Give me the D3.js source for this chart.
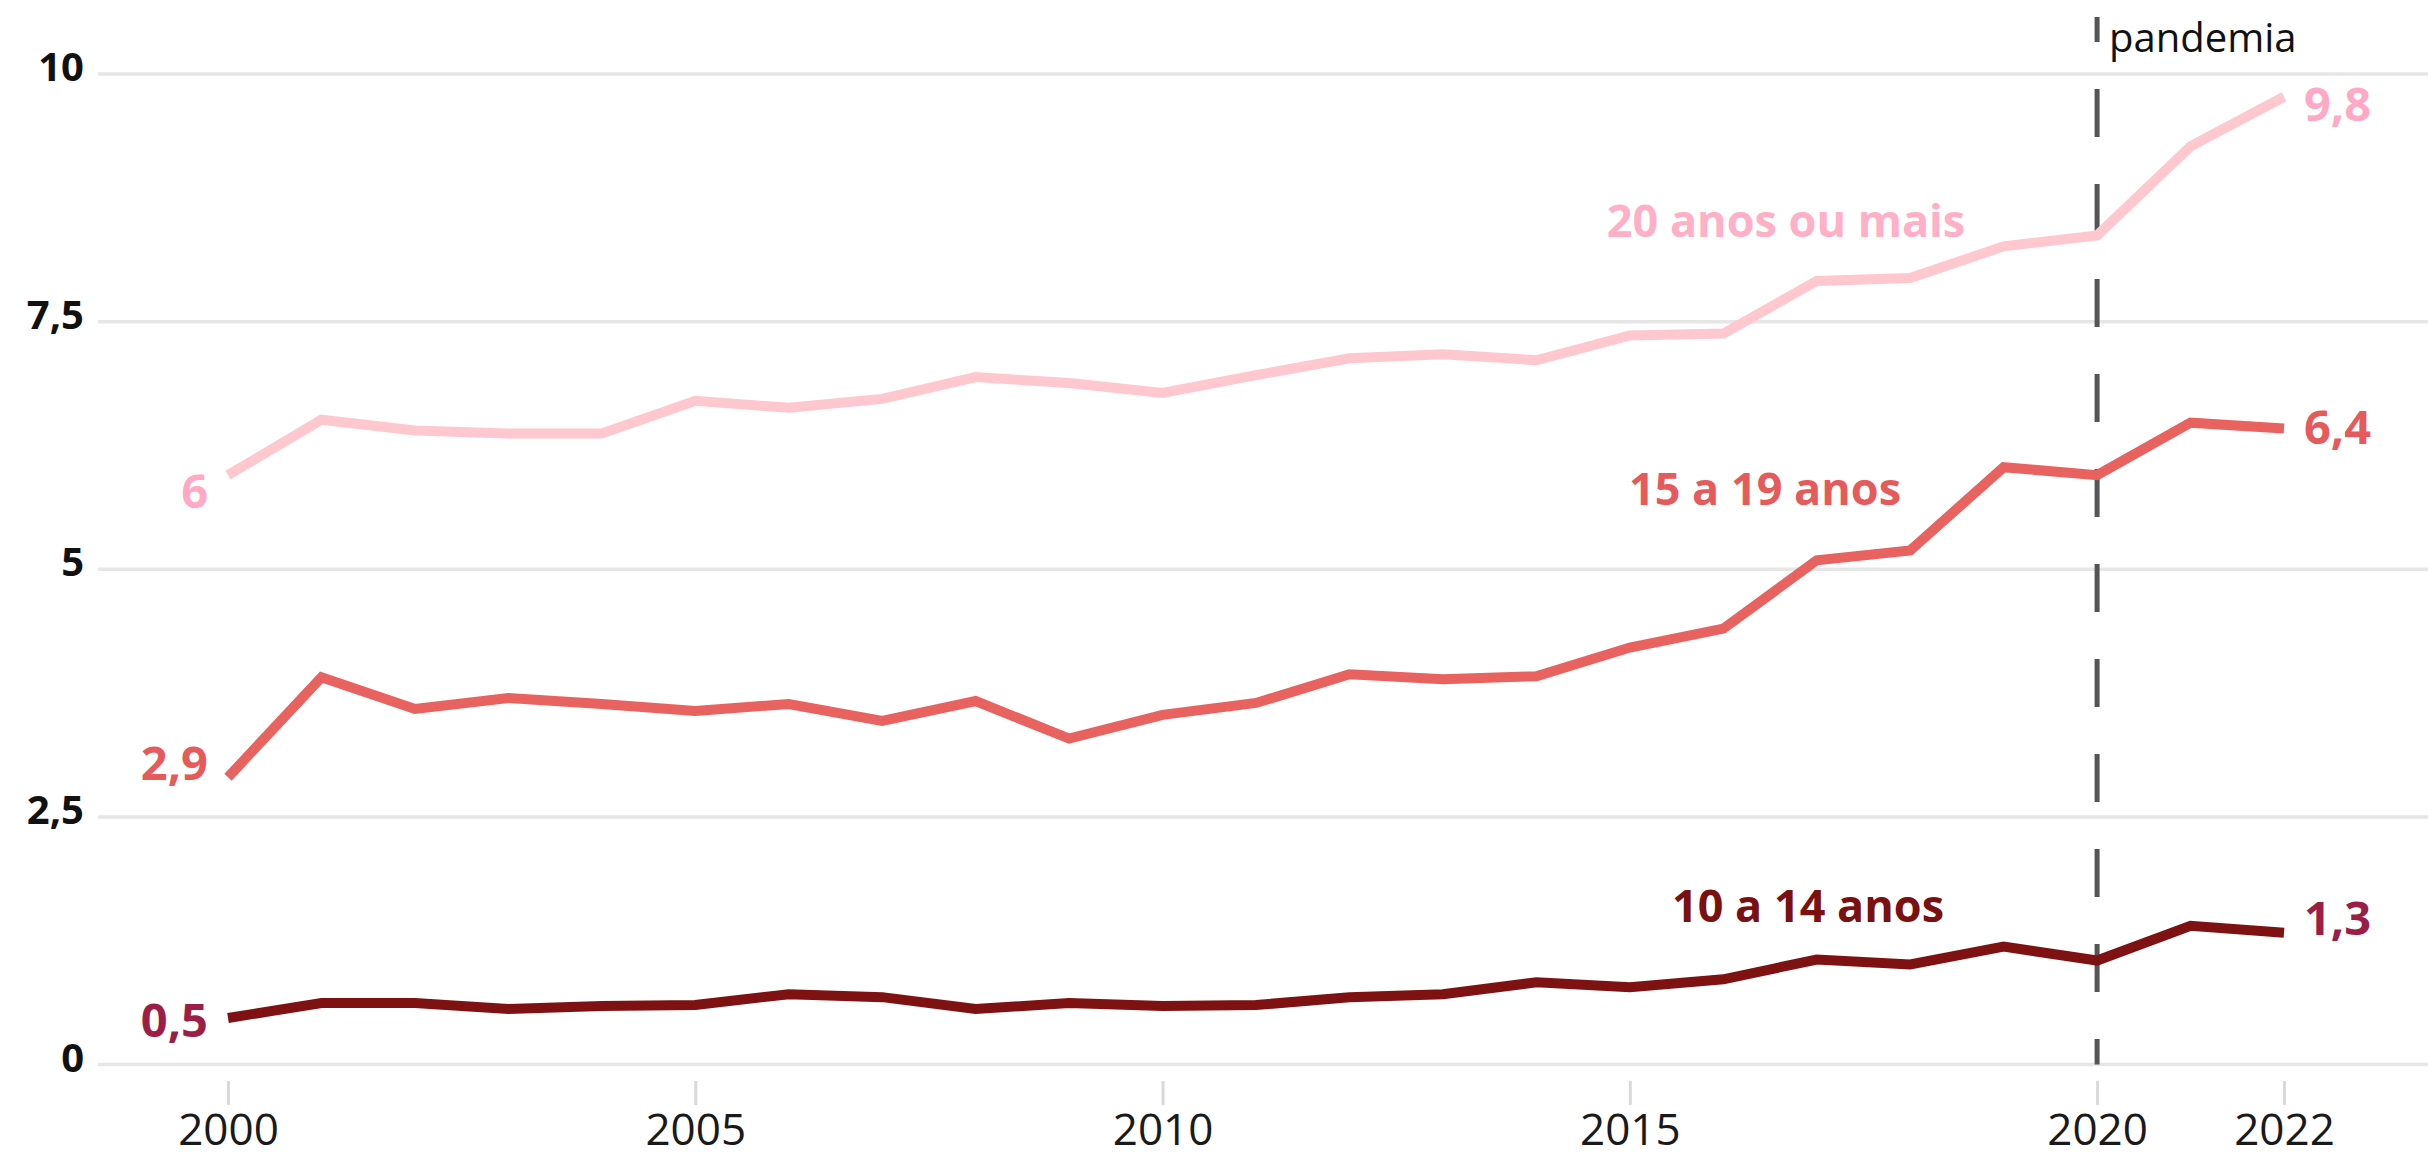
<!DOCTYPE html>
<html>
<head>
<meta charset="utf-8">
<script src="https://cdn.jsdelivr.net/npm/d3@7"></script>
<style>
  html, body { margin: 0; padding: 0; background: #ffffff; }
  svg { display: block; }
</style>
</head>
<body>
<svg id="chart" width="2428" height="1160"></svg>
<script>
// ---- Data ----
const years = [2000,2001,2002,2003,2004,2005,2006,2007,2008,2009,2010,2011,2012,2013,2014,2015,2016,2017,2018,2019,2020,2021,2022];
const age20plus = [5.95,6.51,6.40,6.37,6.37,6.70,6.63,6.72,6.94,6.88,6.78,6.96,7.13,7.17,7.11,7.36,7.38,7.91,7.94,8.26,8.37,9.27,9.77];
const age15to19 = [2.90,3.91,3.59,3.70,3.64,3.57,3.64,3.47,3.67,3.29,3.53,3.65,3.94,3.89,3.92,4.21,4.40,5.09,5.19,6.03,5.95,6.48,6.42];
const age10to14 = [0.47,0.62,0.62,0.56,0.59,0.60,0.71,0.68,0.56,0.62,0.59,0.60,0.68,0.71,0.83,0.78,0.86,1.06,1.01,1.19,1.05,1.40,1.33];
const seriesNames = ["20 anos ou mais","15 a 19 anos","10 a 14 anos"];
const startLabels = ["6","2,9","0,5"];
const endLabels = ["9,8","6,4","1,3"];
const yTicks = [0,2.5,5,7.5,10];
const yTickLabels = ["0","2,5","5","7,5","10"];
const xTicks = [2000,2005,2010,2015,2020,2022];
const pandemicYear = 2020;
const pandemicLabel = "pandemia";

// ---- Layout ----
const svg = d3.select("#chart");
const x = d3.scaleLinear().domain([2000, 2022]).range([228, 2284]);
const y = d3.scaleLinear().domain([0, 10]).range([1064.5, 74]);
const gridX0 = 98, gridX1 = 2428;
const font = "'Open Sans', 'Noto Sans', sans-serif";

const styles = [
  { line: "#ffc8cf", label: "#ffafc6", end: "#ffa9c6",
    nameX: 1786, nameY: 237,
    sdx: -20, sdy: 33, edx: 20, edy: 24 },
  { line: "#e8625f", label: "#e55b5b", end: "#e55b5b",
    nameX: 1765, nameY: 505,
    sdx: -20, sdy: 3, edx: 20, edy: 15 },
  { line: "#7e1212", label: "#7a1010", end: "#9a1e46",
    nameX: 1808, nameY: 922,
    sdx: -20, sdy: 19, edx: 20, edy: 2 }
];
const allSeries = [age20plus, age15to19, age10to14];

// ---- Gridlines + y labels ----
const gGrid = svg.append("g");
gGrid.selectAll("line").data(yTicks).join("line")
  .attr("x1", gridX0).attr("x2", gridX1)
  .attr("y1", d => y(d)).attr("y2", d => y(d))
  .attr("stroke", "#e6e6e6").attr("stroke-width", 3.5);
gGrid.selectAll("text").data(yTicks).join("text")
  .attr("x", 84).attr("y", d => y(d) + 7)
  .attr("text-anchor", "end")
  .attr("font-family", font).attr("font-size", 40).attr("font-weight", 700)
  .attr("fill", "#111")
  .text((d, i) => yTickLabels[i]);

// ---- X axis ----
const xAxis = d3.axisBottom(x)
  .tickValues(xTicks)
  .tickFormat(d3.format("d"))
  .tickSize(24)
  .tickPadding(9);
const gX = svg.append("g").attr("transform", "translate(0,1081)").call(xAxis);
gX.select(".domain").remove();
gX.selectAll(".tick line").attr("stroke", "#d9d9d9").attr("stroke-width", 3);
gX.selectAll(".tick text")
  .attr("font-family", font).attr("font-size", 44).attr("fill", "#1a1a1a");

// ---- Pandemic marker ----
svg.append("line")
  .attr("x1", x(pandemicYear)).attr("x2", x(pandemicYear))
  .attr("y1", 17).attr("y2", y(0))
  .attr("stroke", "#555").attr("stroke-width", 5)
  .attr("stroke-dasharray", "48,47").attr("stroke-dashoffset", 23);
svg.append("text")
  .attr("x", x(pandemicYear) + 12).attr("y", 52)
  .attr("font-family", font).attr("font-size", 40).attr("font-weight", 500)
  .attr("fill", "#111")
  .text(pandemicLabel);

// ---- Lines ----
const line = d3.line().x((d, i) => x(years[i])).y(d => y(d));
allSeries.forEach((vals, si) => {
  const st = styles[si];
  svg.append("path")
    .datum(vals)
    .attr("d", line)
    .attr("fill", "none")
    .attr("stroke", st.line)
    .attr("stroke-width", 10)
    .attr("stroke-linejoin", "miter")
    .attr("stroke-linecap", "butt");

  // start label
  svg.append("text")
    .attr("x", x(years[0]) + st.sdx).attr("y", y(vals[0]) + st.sdy)
    .attr("text-anchor", "end")
    .attr("font-family", font).attr("font-size", 47).attr("font-weight", 700)
    .attr("fill", st.end)
    .text(startLabels[si]);
  // end label
  const last = vals.length - 1;
  svg.append("text")
    .attr("x", x(years[last]) + st.edx).attr("y", y(vals[last]) + st.edy)
    .attr("text-anchor", "start")
    .attr("font-family", font).attr("font-size", 47).attr("font-weight", 700)
    .attr("fill", st.end)
    .text(endLabels[si]);
  // series name
  svg.append("text")
    .attr("x", st.nameX).attr("y", st.nameY)
    .attr("text-anchor", "middle")
    .attr("font-family", font).attr("font-size", 45).attr("font-weight", 700)
    .attr("fill", st.label)
    .text(seriesNames[si]);
});
</script>
</body>
</html>
